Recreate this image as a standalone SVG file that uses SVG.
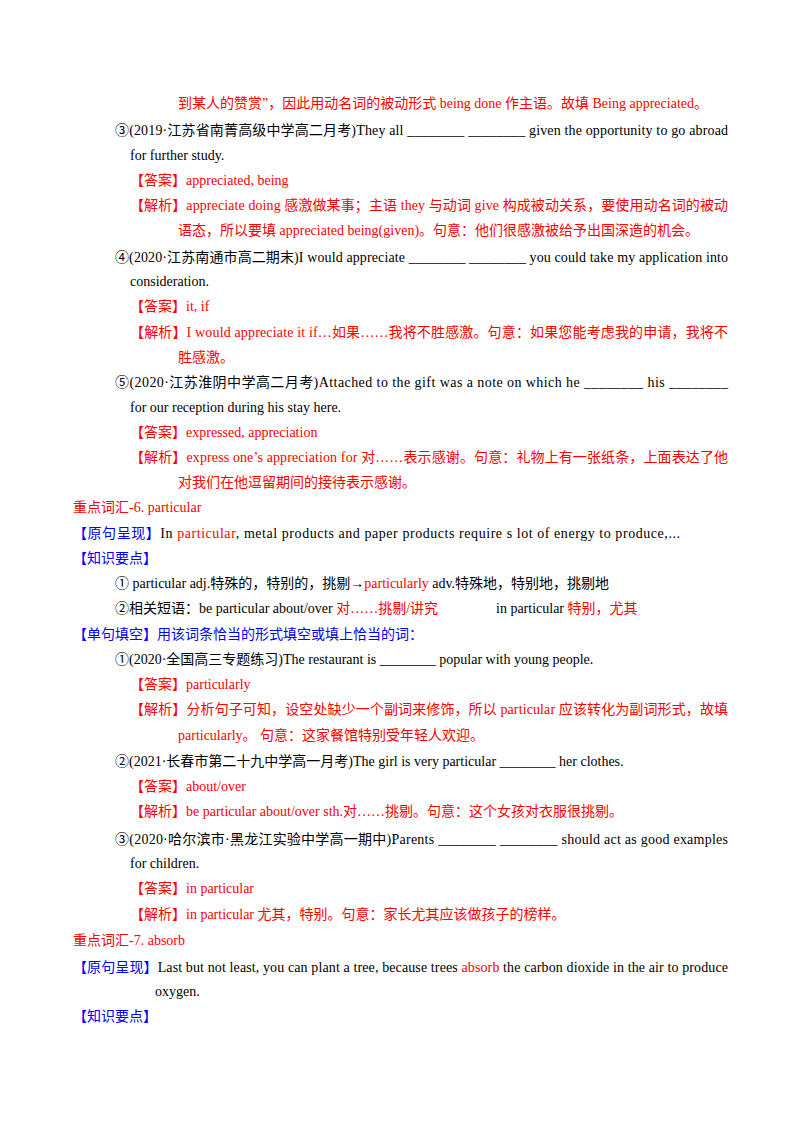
<svg xmlns="http://www.w3.org/2000/svg" width="800" height="1132" viewBox="0 0 800 1132">
<style>
text{font-family:"Liberation Serif","Noto Sans CJK SC",serif;font-size:14px;fill:#000}
.r{fill:#ff0000}.b{fill:#0000ff}
</style>
<rect width="800" height="1132" fill="#fff"/>
<text x="178" y="108" class="r">到某人的赞赏”，因此用动名词的被动形式 being done 作主语。故填 Being appreciated。</text>
<text x="115" y="135" textLength="613" lengthAdjust="spacing">③(2019·江苏省南菁高级中学高二月考)They all ________ ________ given the opportunity to go abroad</text>
<text x="130" y="160">for further study.</text>
<text x="130" y="185" class="r">【答案】appreciated, being</text>
<text x="130" y="210" class="r" textLength="598" lengthAdjust="spacing">【解析】appreciate doing 感激做某事；主语 they 与动词 give 构成被动关系，要使用动名词的被动</text>
<text x="178" y="235" class="r">语态，所以要填 appreciated being(given)。句意：他们很感激被给予出国深造的机会。</text>
<text x="115" y="262" textLength="613" lengthAdjust="spacing">④(2020·江苏南通市高二期末)I would appreciate ________ ________ you could take my application into</text>
<text x="130" y="286">consideration.</text>
<text x="130" y="311" class="r">【答案】it, if</text>
<text x="130" y="337" class="r" textLength="598" lengthAdjust="spacing">【解析】I would appreciate it if…如果……我将不胜感激。句意：如果您能考虑我的申请，我将不</text>
<text x="178" y="362" class="r">胜感激。</text>
<text x="115" y="387" textLength="613" lengthAdjust="spacing">⑤(2020·江苏淮阴中学高二月考)Attached to the gift was a note on which he ________ his ________</text>
<text x="130" y="412">for our reception during his stay here.</text>
<text x="130" y="437" class="r">【答案】expressed, appreciation</text>
<text x="130" y="462" class="r" textLength="598" lengthAdjust="spacing">【解析】express one’s appreciation for 对……表示感谢。句意：礼物上有一张纸条，上面表达了他</text>
<text x="178" y="487" class="r">对我们在他逗留期间的接待表示感谢。</text>
<text x="73" y="512" class="r">重点词汇-6. particular</text>
<text x="73" y="538" textLength="607" lengthAdjust="spacing"><tspan class="b">【原句呈现】</tspan>In <tspan class="r">particular</tspan>, metal products and paper products require s lot of energy to produce,...</text>
<text x="73" y="563" class="b">【知识要点】</text>
<text x="115" y="588">① particular adj.特殊的，特别的，挑剔→<tspan class="r">particularly</tspan> adv.特殊地，特别地，挑剔地</text>
<text x="115" y="613">②相关短语：be particular about/over <tspan class="r">对……挑剔/讲究</tspan></text>
<text x="496" y="613">in particular <tspan class="r">特别，尤其</tspan></text>
<text x="73" y="639" class="b">【单句填空】用该词条恰当的形式填空或填上恰当的词：</text>
<text x="115" y="664">①(2020·全国高三专题练习)The restaurant is ________ popular with young people.</text>
<text x="130" y="689" class="r">【答案】particularly</text>
<text x="130" y="714" class="r" textLength="598" lengthAdjust="spacing">【解析】分析句子可知，设空处缺少一个副词来修饰，所以 particular 应该转化为副词形式，故填</text>
<text x="178" y="740" class="r">particularly。 句意：这家餐馆特别受年轻人欢迎。</text>
<text x="115" y="766">②(2021·长春市第二十九中学高一月考)The girl is very particular ________ her clothes.</text>
<text x="130" y="791" class="r">【答案】about/over</text>
<text x="130" y="816" class="r">【解析】be particular about/over sth.对……挑剔。句意：这个女孩对衣服很挑剔。</text>
<text x="115" y="844" textLength="613" lengthAdjust="spacing">③(2020·哈尔滨市·黑龙江实验中学高一期中)Parents ________ ________ should act as good examples</text>
<text x="130" y="868">for children.</text>
<text x="130" y="893" class="r">【答案】in particular</text>
<text x="130" y="919" class="r">【解析】in particular 尤其，特别。句意：家长尤其应该做孩子的榜样。</text>
<text x="73" y="945" class="r">重点词汇-7. absorb</text>
<text x="73" y="972" textLength="655" lengthAdjust="spacing"><tspan class="b">【原句呈现】</tspan>Last but not least, you can plant a tree, because trees <tspan class="r">absorb</tspan> the carbon dioxide in the air to produce</text>
<text x="155" y="996">oxygen.</text>
<text x="73" y="1021" class="b">【知识要点】</text>
</svg>
